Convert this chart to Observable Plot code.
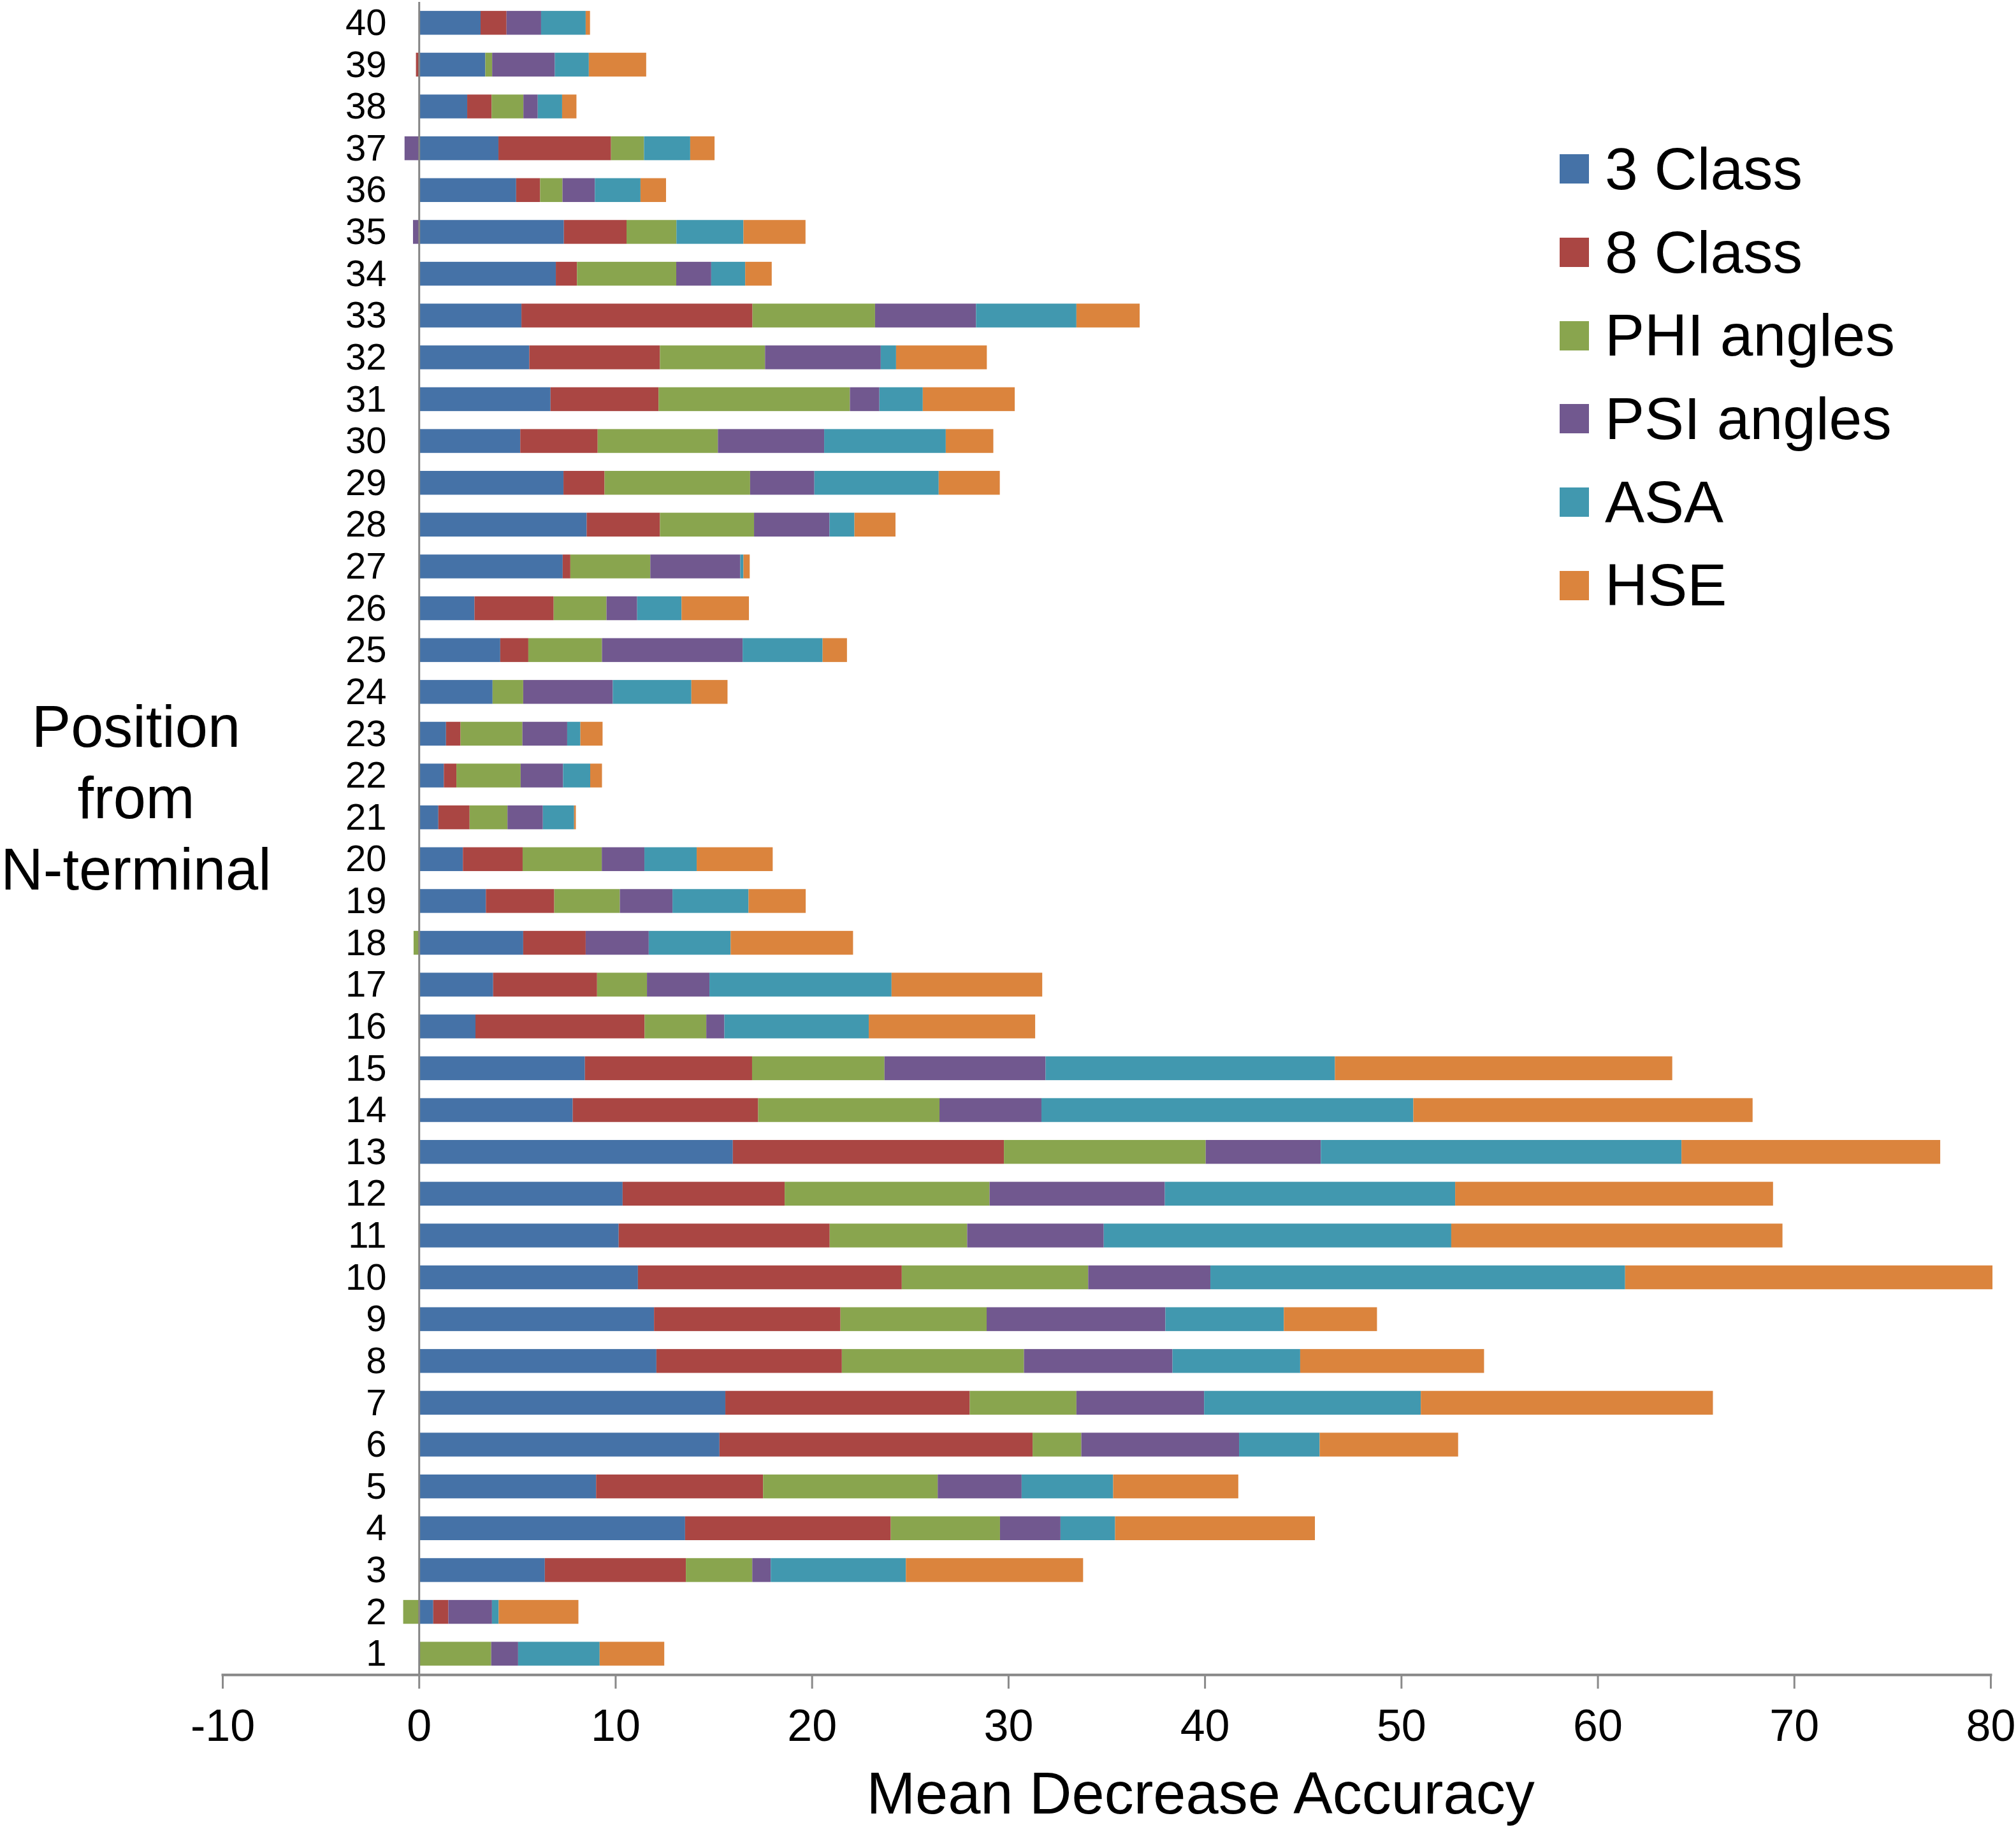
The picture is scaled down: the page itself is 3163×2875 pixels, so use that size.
<!DOCTYPE html>
<html><head><meta charset="utf-8">
<script src="https://cdn.jsdelivr.net/npm/d3@7"></script>
<script src="https://cdn.jsdelivr.net/npm/@observablehq/plot@0.6"></script>
<style>
html,body{margin:0;padding:0;background:#fff;}
#wrap{position:relative;width:3163px;height:2875px;font-family:"Liberation Sans",Arial,sans-serif;}
#legend{position:absolute;left:2447px;top:200px;}
.lg-swatches{font-size:93px !important;font-family:"Liberation Sans",Arial,sans-serif !important;color:#000 !important;margin:0 !important;columns:1 !important;width:700px !important;}
.lg-swatch{height:130.7px !important;padding-bottom:0 !important;margin:0 !important;}
.lg-swatch svg{margin-right:25px !important;}
</style></head><body><div id="wrap"><div id="legend"></div></div>
<script>
const positions = d3.range(1, 41);
const seriesNames = ["3 Class", "8 Class", "PHI angles", "PSI angles", "ASA", "HSE"];
const colors = ["#4572A7", "#AA4643", "#89A54E", "#71588F", "#4198AF", "#DB843D"];
const xTicks = [-10, 0, 10, 20, 30, 40, 50, 60, 70, 80];

// values listed for positions 1..40
const threeClass = [0, 0.73, 6.41, 13.55, 9.02, 15.30, 15.60, 12.09, 11.97, 11.15,
  10.17, 10.37, 15.98, 7.83, 8.45, 2.88, 3.78, 5.31, 3.41, 2.24,
  0.99, 1.27, 1.38, 3.75, 4.14, 2.83, 7.32, 8.54, 7.36, 5.16,
  6.70, 5.62, 5.22, 6.97, 7.38, 4.95, 4.05, 2.46, 3.38, 3.14];
const eightClass = [0, 0.77, 7.18, 10.47, 8.50, 15.94, 12.44, 9.44, 9.49, 13.43,
  10.74, 8.25, 13.80, 9.44, 8.51, 8.61, 5.29, 3.18, 3.48, 3.04,
  1.59, 0.64, 0.74, 0, 1.43, 4.03, 0.39, 3.73, 2.09, 3.94,
  5.50, 6.65, 11.76, 1.08, 3.19, 1.22, 5.73, 1.24, -0.15, 1.32];
const phiAngles = [3.68, -0.80, 3.38, 5.56, 8.89, 2.48, 5.43, 9.27, 7.44, 9.49,
  7.00, 10.43, 10.27, 9.23, 6.74, 3.14, 2.54, -0.27, 3.34, 4.03,
  1.93, 3.27, 3.15, 1.56, 3.75, 2.69, 4.07, 4.79, 7.41, 6.12,
  9.74, 5.35, 6.24, 5.05, 2.54, 1.14, 1.68, 1.62, 0.35, 0];
const psiAngles = [1.37, 2.22, 0.94, 3.08, 4.27, 8.03, 6.50, 7.56, 9.10, 6.22,
  6.95, 8.92, 5.86, 5.19, 8.20, 0.92, 3.18, 3.21, 2.68, 2.17,
  1.80, 2.16, 2.28, 4.56, 7.16, 1.56, 4.58, 3.84, 3.27, 5.41,
  1.50, 5.89, 5.14, 1.78, -0.30, 1.65, -0.73, 0.73, 3.19, 1.76];
const asa = [4.15, 0.34, 6.88, 2.78, 4.66, 4.10, 11.03, 6.50, 6.03, 21.11,
  17.69, 14.78, 18.36, 18.93, 14.73, 7.35, 9.27, 4.17, 3.87, 2.66,
  1.59, 1.38, 0.67, 4.00, 4.07, 2.26, 0.16, 1.27, 6.33, 6.19,
  2.21, 0.78, 5.11, 1.73, 3.41, 2.32, 2.35, 1.24, 1.73, 2.27];
const hse = [3.29, 4.06, 9.02, 10.17, 6.37, 7.05, 14.87, 9.36, 4.74, 18.70,
  16.86, 16.18, 13.17, 17.27, 17.17, 8.47, 7.67, 6.23, 2.91, 3.87,
  0.09, 0.60, 1.13, 1.84, 1.24, 3.43, 0.32, 2.09, 3.11, 2.42,
  4.68, 4.62, 3.22, 1.35, 3.16, 1.30, 1.24, 0.73, 2.92, 0.22];

const seriesValues = [threeClass, eightClass, phiAngles, psiAngles, asa, hse];
const data = positions.flatMap((p, i) =>
  seriesNames.map((s, j) => ({position: p, series: s, value: seriesValues[j][i]})));

const font = "'Liberation Sans', Arial, sans-serif";
const chart = Plot.plot({
  width: 3163, height: 2875,
  marginLeft: 349, marginRight: 40, marginTop: 3, marginBottom: 247,
  style: {fontFamily: font, background: "#fff", color: "#000"},
  x: {domain: [-10, 80], label: null},
  y: {domain: positions.slice().reverse(), paddingInner: 0.43, paddingOuter: 0.215, round: false, label: null},
  color: {domain: seriesNames, range: colors},
  marks: [
    Plot.barX(data, Plot.stackX({x: "value", y: "position", fill: "series", order: null})),
    Plot.ruleX([0], {stroke: "#858585", strokeWidth: 3}),
    Plot.frame({anchor: "bottom", stroke: "#868686", strokeWidth: 4}),
    Plot.axisX(xTicks, {tickSize: 22, tickPadding: 32, fontSize: 70, stroke: "#8a8a8a", strokeWidth: 3, tickFormat: d => String(d)}),
    Plot.axisY({tickSize: 0, tickPadding: 0, dx: 257, fontSize: 58}),
    Plot.text(["Mean Decrease Accuracy"], {text: d => d, frameAnchor: "bottom", lineAnchor: "top", dy: 152, dx: 147, fontSize: 92, fill: "#000"}),
    Plot.text(["Position\nfrom\nN-terminal"], {text: d => d, frameAnchor: "left", textAnchor: "middle", lineAnchor: "middle", lineHeight: 1.217, dx: -136, dy: -68, fontSize: 92, fill: "#000"})
  ]
});
document.getElementById("wrap").prepend(chart);
const legend = chart.legend("color", {legend: "swatches", columns: 1, swatchSize: 46, className: "lg"});
document.getElementById("legend").appendChild(legend);
</script></body></html>
